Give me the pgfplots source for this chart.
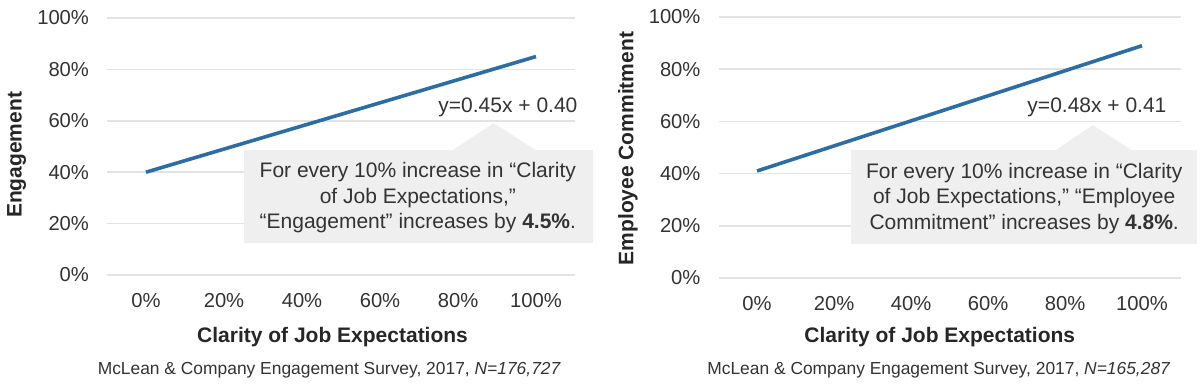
\documentclass[border=0pt]{standalone}
\usepackage{pgfplots}
\pgfplotsset{compat=1.18}
\usepackage{fontspec}
\setmainfont{Liberation Sans}
\definecolor{lineblue}{HTML}{2E6DA4}
\definecolor{gridgray}{HTML}{E3E3E3}
\definecolor{boxgray}{HTML}{EFEFEF}
\definecolor{txt}{HTML}{333333}
\definecolor{lbl}{HTML}{262626}
\pgfplotsset{
  panel/.style={
    scale only axis, clip=false,
    xmin=-10, xmax=110, ymin=0, ymax=100,
    xtick={0,20,...,100}, ytick={0,20,...,100},
    xticklabel={\pgfmathprintnumber{\tick}\%},
    yticklabel={\pgfmathprintnumber{\tick}\%},
    /pgf/number format/assume math mode=true,
    ymajorgrids, grid style={draw=gridgray, line width=0.8pt},
    axis line style={draw=none}, major tick length=0pt,
    tick label style={font=\fontsize{10.1}{12}\selectfont, text=txt},
    xticklabel style={yshift=-5.5pt},
    yticklabel style={xshift=-5.5pt},
  }
}
\begin{document}
\begin{tikzpicture}
\useasboundingbox (0,0) rectangle (600pt,195.5pt);
% Left panel
\begin{axis}[panel, at={(53.5pt,58pt)}, anchor=south west, width=234pt, height=128.5pt]
\addplot[lineblue, line width=1.8pt] coordinates {(0,40) (100,85)};
\fill[boxgray] (axis cs:25.1,12.4) rectangle (axis cs:114.6,48.6);
\fill[boxgray] (axis cs:78.5,48.5) -- (axis cs:89.2,59.1) -- (axis cs:100,48.5) -- cycle;
\node[align=center, font=\fontsize{10.5}{12.75}\selectfont, text=txt] at (axis cs:69.7,30)
  {For every 10\% increase in “Clarity\\of Job Expectations,”\\“Engagement” increases by \textbf{4.5\%}.};
\node[font=\fontsize{10.5}{12.75}\selectfont, text=txt] at (axis cs:92.8,65.4) {y=0.45x + 0.40};
\node[font=\bfseries\fontsize{10.5}{12.75}\selectfont, text=lbl] at (rel axis cs:0.482,-0.241) {Clarity of Job Expectations};
\node[font=\fontsize{8.7}{10.5}\selectfont, text=txt] at (rel axis cs:0.475,-0.370) {McLean \& Company Engagement Survey, 2017, \textit{N=176,727}};
\node[rotate=90, font=\bfseries\fontsize{10.5}{12.75}\selectfont, text=lbl] at (rel axis cs:-0.193,0.467) {Engagement};
\end{axis}
% Right panel
\begin{axis}[panel, at={(359.25pt,56.5pt)}, anchor=south west, width=231pt, height=130.5pt]
\addplot[lineblue, line width=1.8pt] coordinates {(0,41) (100,89)};
\fill[boxgray] (axis cs:24.4,13.0) rectangle (axis cs:114.3,49.0);
\fill[boxgray] (axis cs:77.5,48.9) -- (axis cs:87.2,58.6) -- (axis cs:97.5,48.9) -- cycle;
\node[align=center, font=\fontsize{10.5}{12.75}\selectfont, text=txt] at (axis cs:69.4,30.6)
  {For every 10\% increase in “Clarity\\of Job Expectations,” “Employee\\Commitment” increases by \textbf{4.8\%}.};
\node[font=\fontsize{10.5}{12.75}\selectfont, text=txt] at (axis cs:88.3,65.5) {y=0.48x + 0.41};
\node[font=\bfseries\fontsize{10.5}{12.75}\selectfont, text=lbl] at (rel axis cs:0.479,-0.226) {Clarity of Job Expectations};
\node[font=\fontsize{8.7}{10.5}\selectfont, text=txt] at (rel axis cs:0.477,-0.352) {McLean \& Company Engagement Survey, 2017, \textit{N=165,287}};
\node[rotate=90, font=\bfseries\fontsize{10.5}{12.75}\selectfont, text=lbl] at (rel axis cs:-0.196,0.496) {Employee Commitment};
\end{axis}
\end{tikzpicture}
\end{document}
